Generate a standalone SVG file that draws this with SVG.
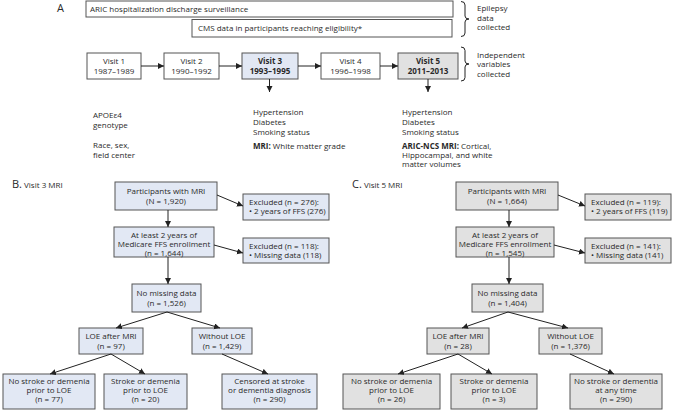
<svg xmlns="http://www.w3.org/2000/svg" width="681" height="410" viewBox="0 0 681 410">
<defs>
<marker id="ah" markerUnits="userSpaceOnUse" markerWidth="7" markerHeight="7" refX="6" refY="3" orient="auto">
<path d="M0,0 L6,3 L0,6 z" fill="#222"/>
</marker>
<style>
text{font-family:"Open Sans","Noto Sans","Liberation Sans",sans-serif;font-size:8px;fill:#2a2a2a}
.c{text-anchor:middle}
.b{font-weight:bold}
.big{font-size:11px}
.w{fill:#fff;stroke:#555;stroke-width:1}
.bl{fill:#e2e8f4;stroke:#555;stroke-width:1}
.gr{fill:#e1e1e1;stroke:#555;stroke-width:1}
.ln{stroke:#222;stroke-width:1;fill:none}
.ar{stroke:#222;stroke-width:1;fill:none;marker-end:url(#ah)}
</style>
</defs>
<rect width="681" height="410" fill="#fff"/>

<!-- Panel A -->
<text x="57" y="12" class="big">A</text>
<g id="aric">
<rect x="86" y="1" width="367" height="16" class="w"/>
<text x="90" y="12">ARIC hospitalization discharge surveillance</text>
</g>
<g id="cms">
<rect x="192" y="19.5" width="260" height="17.5" class="w"/>
<text x="198" y="31">CMS data in participants reaching eligibility*</text>
</g>
<g id="brace1">
<path d="M461,1.5 Q465,1.5 465,5 V16 Q465,19 469,19 Q465,19 465,22 V33 Q465,36.5 461,36.5" class="ln"/>
<text x="477" y="11">Epilepsy</text>
<text x="477" y="20.5">data</text>
<text x="477" y="30">collected</text>
</g>
<g id="brace2">
<path d="M461,47 Q465,47 465,50.5 V61 Q465,64 469,64 Q465,64 465,67 V77.5 Q465,81 461,81" class="ln"/>
<text x="477" y="57.5">Independent</text>
<text x="477" y="67">variables</text>
<text x="477" y="76.5">collected</text>
</g>
<g id="visit1">
<rect x="87" y="53" width="54" height="26" class="w"/>
<text x="114" y="64" class="c">Visit 1</text>
<text x="114" y="73.5" class="c">1987–1989</text>
</g>
<g id="visit2">
<rect x="164" y="53" width="55" height="26" class="w"/>
<text x="191.5" y="64" class="c">Visit 2</text>
<text x="191.5" y="73.5" class="c">1990–1992</text>
</g>
<g id="visit3">
<rect x="242" y="53" width="56" height="26" class="bl"/>
<text x="270" y="64" class="c b">Visit 3</text>
<text x="270" y="73.5" class="c b">1993–1995</text>
</g>
<g id="visit4">
<rect x="321" y="53" width="59" height="26" class="w"/>
<text x="350.5" y="64" class="c">Visit 4</text>
<text x="350.5" y="73.5" class="c">1996–1998</text>
</g>
<g id="visit5">
<rect x="398" y="53" width="60" height="26" class="gr"/>
<text x="428" y="64" class="c b">Visit 5</text>
<text x="428" y="73.5" class="c b">2011–2013</text>
</g>
<g id="notes1">
<text x="93" y="118">APOEε4</text>
<text x="93" y="128">genotype</text>
<text x="93" y="148">Race, sex,</text>
<text x="93" y="158">field center</text>
</g>
<g id="notes3">
<text x="253" y="114.5">Hypertension</text>
<text x="253" y="124.5">Diabetes</text>
<text x="253" y="134.5">Smoking status</text>
<text x="253" y="148.5"><tspan class="b">MRI:</tspan> White matter grade</text>
</g>
<g id="notes5">
<text x="402" y="114.5">Hypertension</text>
<text x="402" y="124.5">Diabetes</text>
<text x="402" y="134.5">Smoking status</text>
<text x="402" y="148.5"><tspan class="b">ARIC-NCS MRI:</tspan> Cortical,</text>
<text x="402" y="157.5">Hippocampal, and white</text>
<text x="402" y="166.5">matter volumes</text>
</g>

<!-- Panel B -->
<text x="12" y="188"><tspan class="big">B.</tspan> Visit 3 MRI</text>
<g id="b-part">
<rect x="115" y="182" width="102" height="28" class="bl"/>
<text x="166" y="193.5" class="c">Participants with MRI</text>
<text x="166" y="203.5" class="c">(N = 1,920)</text>
</g>
<g id="b-excl1">
<rect x="243" y="194" width="86" height="26" class="bl"/>
<text x="249" y="205">Excluded (n = 276):</text>
<text x="249" y="214">• 2 years of FFS (276)</text>
</g>
<g id="b-ffs">
<rect x="114" y="227" width="100" height="30" class="bl"/>
<text x="164" y="237.5" class="c">At least 2 years of</text>
<text x="164" y="246.5" class="c">Medicare FFS enrollment</text>
<text x="164" y="255.5" class="c">(n = 1,644)</text>
</g>
<g id="b-excl2">
<rect x="243" y="238" width="86" height="25" class="bl"/>
<text x="249" y="248.5">Excluded (n = 118):</text>
<text x="249" y="257.5">• Missing data (118)</text>
</g>
<g id="b-nmd">
<rect x="132" y="284" width="69" height="28" class="bl"/>
<text x="166.5" y="296" class="c">No missing data</text>
<text x="166.5" y="306" class="c">(n = 1,526)</text>
</g>
<g id="b-loe">
<rect x="79" y="328" width="64" height="26" class="bl"/>
<text x="111" y="338.5" class="c">LOE after MRI</text>
<text x="111" y="348.5" class="c">(n = 97)</text>
</g>
<g id="b-without">
<rect x="192" y="328" width="60" height="26" class="bl"/>
<text x="222" y="338.5" class="c">Without LOE</text>
<text x="222" y="348.5" class="c">(n = 1,429)</text>
</g>
<g id="b-r1">
<rect x="3" y="374" width="92" height="35" class="bl"/>
<text x="49" y="384" class="c">No stroke or demenia</text>
<text x="49" y="393" class="c">prior to LOE</text>
<text x="49" y="402" class="c">(n = 77)</text>
</g>
<g id="b-r2">
<rect x="104" y="374" width="83" height="35" class="bl"/>
<text x="145.5" y="384" class="c">Stroke or demenia</text>
<text x="145.5" y="393" class="c">prior to LOE</text>
<text x="145.5" y="402" class="c">(n = 20)</text>
</g>
<g id="b-r3">
<rect x="222" y="374" width="95" height="35" class="bl"/>
<text x="269.5" y="384" class="c">Censored at stroke</text>
<text x="269.5" y="393" class="c">or dementia diagnosis</text>
<text x="269.5" y="402" class="c">(n = 290)</text>
</g>

<!-- Panel C -->
<text x="352" y="188"><tspan class="big">C.</tspan> Visit 5 MRI</text>
<g id="c-part">
<rect x="456" y="182" width="102" height="28" class="gr"/>
<text x="507" y="193.5" class="c">Participants with MRI</text>
<text x="507" y="203.5" class="c">(N = 1,664)</text>
</g>
<g id="c-excl1">
<rect x="585" y="194" width="86" height="26" class="gr"/>
<text x="591" y="205">Excluded (n = 119):</text>
<text x="591" y="214">• 2 years of FFS (119)</text>
</g>
<g id="c-ffs">
<rect x="456" y="227" width="98" height="30" class="gr"/>
<text x="505" y="237.5" class="c">At least 2 years of</text>
<text x="505" y="246.5" class="c">Medicare FFS enrollment</text>
<text x="505" y="255.5" class="c">(n = 1,545)</text>
</g>
<g id="c-excl2">
<rect x="585" y="238" width="86" height="25" class="gr"/>
<text x="591" y="248.5">Excluded (n = 141):</text>
<text x="591" y="257.5">• Missing data (141)</text>
</g>
<g id="c-nmd">
<rect x="472" y="284" width="71" height="28" class="gr"/>
<text x="507.5" y="296" class="c">No missing data</text>
<text x="507.5" y="306" class="c">(n = 1,404)</text>
</g>
<g id="c-loe">
<rect x="427" y="328" width="62" height="26" class="gr"/>
<text x="458" y="338.5" class="c">LOE after MRI</text>
<text x="458" y="348.5" class="c">(n = 28)</text>
</g>
<g id="c-without">
<rect x="539" y="328" width="63" height="26" class="gr"/>
<text x="570.5" y="338.5" class="c">Without LOE</text>
<text x="570.5" y="348.5" class="c">(n = 1,376)</text>
</g>
<g id="c-r1">
<rect x="343" y="374" width="97" height="35" class="gr"/>
<text x="391.5" y="384" class="c">No stroke or demenia</text>
<text x="391.5" y="393" class="c">prior to LOE</text>
<text x="391.5" y="402" class="c">(n = 26)</text>
</g>
<g id="c-r2">
<rect x="451" y="374" width="86" height="35" class="gr"/>
<text x="494" y="384" class="c">Stroke or demenia</text>
<text x="494" y="393" class="c">prior to LOE</text>
<text x="494" y="402" class="c">(n = 3)</text>
</g>
<g id="c-r3">
<rect x="570" y="374" width="92" height="35" class="gr"/>
<text x="616" y="384" class="c">No stroke or dementia</text>
<text x="616" y="393" class="c">at any time</text>
<text x="616" y="402" class="c">(n = 290)</text>
</g>

<g id="connectors">
<line x1="141" y1="66" x2="164" y2="66" class="ar"/>
<line x1="219" y1="66" x2="242" y2="66" class="ar"/>
<line x1="298" y1="66" x2="321" y2="66" class="ar"/>
<line x1="380" y1="66" x2="398" y2="66" class="ar"/>
<line x1="269.5" y1="79" x2="269.5" y2="92" class="ar"/>
<line x1="428" y1="79" x2="428" y2="92" class="ar"/>

<line x1="168" y1="210" x2="168" y2="227" class="ar"/>
<line x1="217" y1="195" x2="243" y2="206" class="ar"/>
<line x1="214" y1="245" x2="243" y2="253" class="ar"/>
<line x1="168" y1="257" x2="168" y2="284" class="ar"/>
<line x1="167" y1="312" x2="116" y2="328" class="ar"/>
<line x1="167" y1="312" x2="220" y2="328" class="ar"/>
<line x1="111" y1="354" x2="50" y2="374" class="ar"/>
<line x1="111" y1="354" x2="145" y2="374" class="ar"/>
<line x1="222" y1="354" x2="268" y2="374" class="ar"/>

<line x1="509" y1="210" x2="509" y2="227" class="ar"/>
<line x1="558" y1="195" x2="585" y2="206" class="ar"/>
<line x1="554" y1="245" x2="585" y2="253" class="ar"/>
<line x1="509" y1="257" x2="509" y2="284" class="ar"/>
<line x1="508" y1="312" x2="462" y2="328" class="ar"/>
<line x1="508" y1="312" x2="568" y2="328" class="ar"/>
<line x1="458" y1="354" x2="398" y2="374" class="ar"/>
<line x1="458" y1="354" x2="492" y2="374" class="ar"/>
<line x1="570" y1="354" x2="614" y2="374" class="ar"/>
</g>
</svg>
